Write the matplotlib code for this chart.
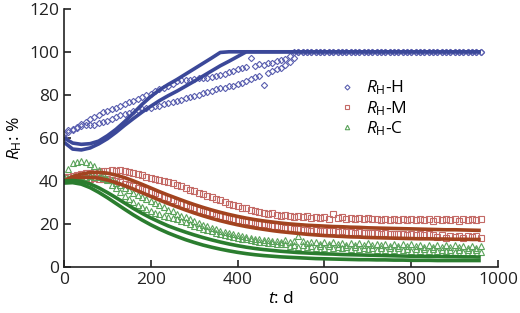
import numpy as np
import matplotlib
matplotlib.use("Agg")
import matplotlib.pyplot as plt

plt.rcParams['font.family'] = ['Open Sans', 'DejaVu Sans']
plt.rcParams['mathtext.fontset'] = 'custom'
plt.rcParams['mathtext.rm'] = 'Open Sans'
plt.rcParams['mathtext.it'] = 'Open Sans:italic'

# measured data, every 10 days
days = list(range(0, 961, 10))
fit_days = list(range(0, 961, 20))

h_meas_a = [62.0, 63.5, 64.0, 65.2, 66.3, 67.5, 68.9, 69.6, 70.6, 71.8,
            72.4, 73.4, 74.1, 74.9, 75.6, 76.5, 77.2, 78.1, 79.0, 79.9,
            80.6, 81.7, 82.5, 83.4, 84.1, 85.0, 86.2, 86.7, 87.0, 87.1,
            87.3, 87.6, 88.0, 87.8, 88.4, 88.6, 89.3, 89.9, 90.6, 91.1,
            91.8, 92.4, 93.1, 97.2, 93.5, 94.1, 93.8, 94.6, 95.0, 95.5,
            96.1, 96.8, 97.9, 100, 100, 100, 100, 100, 100, 100,
            100, 100, 100, 100, 100, 100, 100, 100, 100, 100,
            100, 100, 100, 100, 100, 100, 100, 100, 100, 100,
            100, 100, 100, 100, 100, 100, 100, 100, 100, 100,
            100, 100, 100, 100, 100, 100, 100]
h_meas_b = [60.5, 62.8, 63.5, 64.6, 65.3, 65.8, 66.2, 66.0, 66.7, 67.4,
            68.0, 68.6, 69.5, 70.4, 71.2, 71.6, 72.3, 72.8, 73.2, 73.7,
            74.1, 74.6, 75.0, 75.6, 76.0, 76.5, 77.0, 77.6, 78.3, 79.0,
            79.4, 80.1, 80.8, 81.4, 81.8, 82.6, 83.0, 83.4, 84.1, 84.2,
            84.9, 85.5, 86.6, 87.4, 88.1, 88.9, 84.8, 90.3, 91.2, 92.0,
            92.6, 93.8, 95.3, 97.0, 100, 100, 100, 100, 100, 100,
            100, 100, 100, 100, 100, 100, 100, 100, 100, 100,
            100, 100, 100, 100, 100, 100, 100, 100, 100, 100,
            100, 100, 100, 100, 100, 100, 100, 100, 100, 100,
            100, 100, 100, 100, 100, 100, 100]
m_meas_a = [41.2, 41.8, 42.3, 42.6, 43.2, 43.5, 43.9, 44.3, 44.2, 44.6,
            44.8, 45.1, 44.7, 44.9, 44.5, 44.0, 43.6, 43.1, 42.6, 41.9,
            41.5, 40.8, 40.4, 39.9, 39.5, 38.9, 38.2, 37.6, 36.7, 35.9,
            35.2, 34.6, 33.8, 33.0, 32.4, 31.6, 30.9, 30.1, 29.4, 28.9,
            28.2, 27.6, 27.3, 26.5, 26.2, 25.6, 25.3, 24.7, 24.9, 24.1,
            23.8, 24.2, 23.6, 23.4, 23.9, 23.1, 23.5, 22.8, 23.2, 22.6,
            23.0, 22.5, 24.6, 22.7, 23.1, 22.4, 22.9, 22.3, 22.8, 22.2,
            22.6, 22.1, 22.5, 21.9, 22.4, 22.0, 22.5, 21.8, 22.3, 21.9,
            22.4, 21.7, 22.2, 21.8, 22.3, 21.6, 22.1, 21.7, 22.4, 21.8,
            22.2, 21.6, 22.1, 21.7, 22.3, 21.9, 22.2]
m_meas_b = [42.0, 41.6, 41.2, 40.9, 41.0, 41.3, 40.8, 41.2, 41.0, 40.9,
            40.7, 40.2, 39.8, 39.3, 38.7, 38.1, 37.5, 36.9, 36.2, 35.6,
            34.9, 34.2, 33.5, 32.7, 31.9, 31.0, 30.2, 29.4, 28.7, 28.0,
            27.3, 26.6, 26.0, 25.4, 24.9, 24.3, 23.8, 23.3, 22.9, 22.4,
            22.0, 21.6, 21.2, 20.9, 20.5, 20.1, 19.8, 19.4, 19.1, 18.9,
            18.5, 18.3, 18.0, 17.7, 17.5, 17.2, 17.4, 16.9, 17.1, 16.7,
            16.9, 16.5, 16.7, 16.3, 16.5, 16.1, 16.3, 15.9, 16.1, 15.8,
            16.0, 15.6, 15.8, 15.4, 15.7, 15.3, 15.5, 15.1, 15.4, 15.0,
            15.3, 14.9, 15.2, 14.8, 15.1, 14.7, 13.8, 14.9, 13.6, 14.6,
            13.9, 14.5, 13.7, 14.4, 13.8, 14.3, 13.5]
c_meas_a = [42.0, 45.5, 48.3, 48.8, 49.2, 48.6, 47.9, 46.8, 45.2, 43.1,
            40.6, 38.2, 36.5, 34.9, 33.1, 31.6, 30.4, 29.0, 27.9, 26.9,
            26.1, 25.3, 24.6, 23.9, 23.3, 22.6, 22.1, 21.5, 20.7, 20.0,
            19.2, 18.5, 17.8, 17.3, 16.6, 16.0, 15.4, 15.0, 14.4, 14.1,
            13.6, 13.2, 12.8, 12.5, 12.1, 11.8, 11.5, 11.2, 11.0, 10.7,
            10.5, 10.9, 9.8, 10.4, 9.5, 10.1, 9.2, 9.9, 9.0, 9.7,
            8.9, 9.6, 8.7, 9.4, 8.6, 9.3, 8.4, 9.1, 8.3, 9.0,
            8.2, 8.9, 8.0, 8.8, 7.9, 8.7, 7.8, 8.6, 7.7, 8.5,
            7.6, 8.4, 7.5, 8.3, 7.4, 8.2, 7.3, 8.1, 7.2, 8.0,
            7.1, 7.9, 7.0, 7.8, 6.9, 7.7, 6.8]
c_meas_b = [41.5, 41.2, 41.6, 42.0, 42.3, 41.8, 42.1, 41.7, 41.9, 41.5,
            41.0, 40.3, 39.2, 38.0, 36.9, 35.7, 34.6, 33.6, 32.6, 31.7,
            30.8, 29.7, 28.8, 27.7, 26.7, 25.8, 24.8, 23.9, 23.0, 22.1,
            21.3, 20.5, 19.7, 19.0, 18.2, 17.6, 16.9, 16.3, 15.7, 15.2,
            14.7, 14.3, 13.9, 13.5, 13.2, 12.9, 12.6, 12.4, 12.1, 11.9,
            11.7, 12.6, 11.4, 12.3, 14.2, 12.0, 11.0, 11.8, 11.6, 10.8,
            11.5, 10.6, 11.4, 10.5, 11.3, 10.4, 11.2, 10.3, 11.1, 10.2,
            11.0, 10.1, 10.9, 10.0, 10.8, 9.9, 10.7, 9.8, 10.6, 9.7,
            10.5, 9.6, 10.4, 9.5, 10.3, 9.4, 10.2, 9.3, 10.1, 9.2,
            10.0, 9.1, 9.9, 9.0, 9.8, 8.9, 9.7]

# fitted curves, every 20 days
h_fit_a = [60.0, 57.6, 57.0, 57.3, 58.5, 61.0, 64.0, 67.6, 71.5, 75.6,
           79.2, 82.3, 84.8, 87.1, 89.6, 92.1, 94.6, 97.1, 99.7, 100,
           100, 100, 100, 100, 100, 100, 100, 100, 100, 100,
           100, 100, 100, 100, 100, 100, 100, 100, 100, 100,
           100, 100, 100, 100, 100, 100, 100, 100, 100]
h_fit_b = [58.0, 54.8, 54.4, 55.3, 57.2, 59.6, 62.6, 65.9, 69.0, 72.0,
           74.7, 77.3, 79.6, 81.7, 84.0, 86.3, 88.7, 91.1, 93.5, 95.6,
           97.8, 100, 100, 100, 100, 100, 100, 100, 100, 100,
           100, 100, 100, 100, 100, 100, 100, 100, 100, 100,
           100, 100, 100, 100, 100, 100, 100, 100, 100]
m_fit_a = [40.0, 42.0, 43.2, 43.9, 44.0, 43.6, 42.7, 41.5, 40.0, 38.4,
           36.7, 35.0, 33.4, 31.9, 30.4, 29.0, 27.7, 26.5, 25.4, 24.4,
           23.5, 22.7, 22.0, 21.4, 20.9, 20.4, 20.0, 19.7, 19.4, 19.2,
           19.0, 18.8, 18.7, 18.5, 18.4, 18.2, 18.1, 18.0, 17.9, 17.8,
           17.7, 17.6, 17.5, 17.4, 17.3, 17.3, 17.2, 17.1, 17.0]
m_fit_b = [40.0, 41.0, 41.6, 41.7, 41.3, 40.4, 39.2, 37.8, 36.2, 34.5,
           32.8, 31.1, 29.5, 28.0, 26.5, 25.1, 23.8, 22.6, 21.5, 20.5,
           19.6, 18.8, 18.1, 17.5, 16.9, 16.4, 16.0, 15.6, 15.2, 14.9,
           14.6, 14.4, 14.2, 14.0, 13.9, 13.7, 13.6, 13.5, 13.4, 13.3,
           13.2, 13.1, 13.1, 13.0, 13.0, 12.9, 12.9, 12.8, 12.8]
c_fit_a = [40.0, 40.2, 39.8, 38.6, 36.8, 34.6, 32.2, 29.7, 27.2, 24.9,
           22.8, 20.9, 19.1, 17.6, 16.2, 14.9, 13.7, 12.6, 11.6, 10.7,
           9.9, 9.2, 8.6, 8.1, 7.7, 7.3, 7.0, 6.7, 6.5, 6.3,
           6.1, 6.0, 5.8, 5.7, 5.6, 5.5, 5.4, 5.3, 5.2, 5.1,
           5.0, 5.0, 4.9, 4.9, 4.8, 4.8, 4.7, 4.7, 4.6]
c_fit_b = [39.0, 39.2, 38.5, 36.9, 34.7, 32.2, 29.5, 26.8, 24.2, 21.8,
           19.6, 17.6, 15.8, 14.2, 12.7, 11.4, 10.2, 9.2, 8.3, 7.5,
           6.8, 6.2, 5.7, 5.3, 5.0, 4.7, 4.5, 4.3, 4.1, 3.9,
           3.8, 3.7, 3.6, 3.5, 3.4, 3.4, 3.3, 3.3, 3.2, 3.2,
           3.1, 3.1, 3.1, 3.0, 3.0, 3.0, 3.0, 3.0, 3.0]

labels = [r'$R_\mathrm{H}$-H', r'$R_\mathrm{H}$-M', r'$R_\mathrm{H}$-C']
blue_pt, blue_ln = '#5b60b0', '#3b4899'
red_pt, red_ln = '#c46a66', '#a2431f'
green_pt, green_ln = '#5aa35a', '#2b7d2f'

fig = plt.figure(figsize=(5.2, 3.13), dpi=100)
ax = fig.add_axes([0.123, 0.147, 0.835, 0.825])

ms = 4
ax.plot(days, h_meas_a, 'D', ms=3.2, mfc='none', mec=blue_pt, mew=0.8, label=labels[0])
ax.plot(days, h_meas_b, 'D', ms=3.2, mfc='none', mec=blue_pt, mew=0.8)
ax.plot(days, m_meas_a, 's', ms=ms, mfc='none', mec=red_pt, mew=0.8, label=labels[1])
ax.plot(days, m_meas_b, 's', ms=ms, mfc='none', mec=red_pt, mew=0.8)
ax.plot(days, c_meas_a, '^', ms=ms, mfc='none', mec=green_pt, mew=0.8, label=labels[2])
ax.plot(days, c_meas_b, '^', ms=ms, mfc='none', mec=green_pt, mew=0.8)

for fit, col in [(h_fit_a, blue_ln), (h_fit_b, blue_ln), (m_fit_a, red_ln),
                 (m_fit_b, red_ln), (c_fit_a, green_ln), (c_fit_b, green_ln)]:
    ax.plot(fit_days, fit, '-', color=col, lw=2.6, solid_capstyle='butt')

ax.set_xlim(0, 1000)
ax.set_ylim(0, 120)
ax.set_xticks([0, 200, 400, 600, 800, 1000])
ax.set_yticks([0, 20, 40, 60, 80, 100, 120])
ax.tick_params(direction='in', length=5, width=1.2, labelsize=12.5, colors='#222222')
for s in ['top', 'right']:
    ax.spines[s].set_visible(False)
for s in ['left', 'bottom']:
    ax.spines[s].set_linewidth(1.2)
    ax.spines[s].set_color('#222222')

ax.set_xlabel(r'$t$: d', fontsize=12.5, labelpad=2)
ax.set_ylabel(r'$R_\mathrm{H}$: %', fontsize=12.5, labelpad=4)

ax.legend(loc='upper left', bbox_to_anchor=(0.595, 0.79), frameon=False,
          fontsize=12.5, handlelength=1.0, handletextpad=0.6, labelspacing=0.1,
          markerscale=0.8)

fig.savefig('out.png', dpi=100)
